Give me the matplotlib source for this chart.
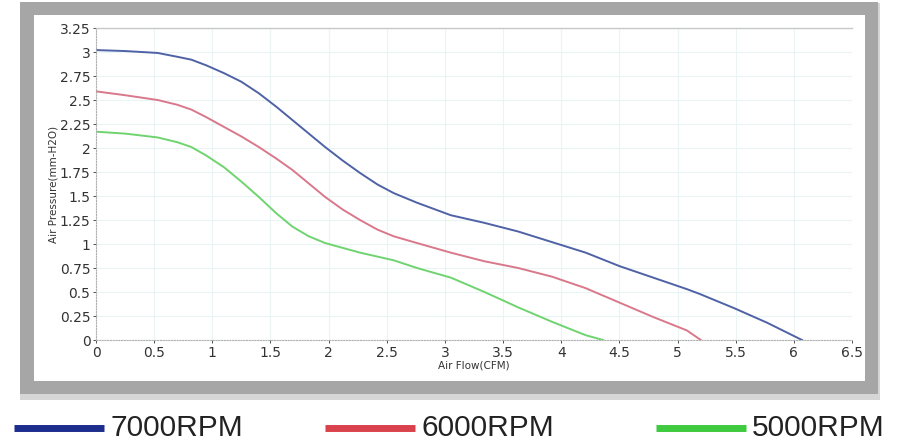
"""Fan P-Q curves: air pressure vs air flow at three speeds."""

import matplotlib.pyplot as plt
from matplotlib.patches import Rectangle
from matplotlib.lines import Line2D

# --- data ---
flow_7000 = [0.0, 0.25, 0.53, 0.70, 0.82, 0.95, 1.10, 1.25, 1.40, 1.55, 1.69,
             1.83, 1.97, 2.12, 2.27, 2.42, 2.56, 2.76, 3.05, 3.34, 3.63, 3.92,
             4.21, 4.50, 4.79, 5.08, 5.19, 5.49, 5.77, 6.07]
pres_7000 = [3.02, 3.01, 2.99, 2.95, 2.92, 2.86, 2.78, 2.69, 2.57, 2.43, 2.29,
             2.15, 2.01, 1.87, 1.74, 1.62, 1.53, 1.43, 1.30, 1.22, 1.13, 1.02,
             0.91, 0.77, 0.65, 0.53, 0.48, 0.33, 0.18, 0.0]

flow_6000 = [0.0, 0.25, 0.53, 0.70, 0.82, 0.95, 1.10, 1.25, 1.40, 1.55, 1.69,
             1.83, 1.97, 2.12, 2.27, 2.42, 2.56, 2.76, 3.05, 3.34, 3.63, 3.92,
             4.21, 4.50, 4.79, 5.08, 5.20]
pres_6000 = [2.59, 2.55, 2.50, 2.45, 2.40, 2.32, 2.22, 2.12, 2.01, 1.89, 1.77,
             1.63, 1.49, 1.36, 1.25, 1.15, 1.08, 1.01, 0.91, 0.82, 0.75, 0.66,
             0.54, 0.39, 0.24, 0.10, 0.0]

flow_5000 = [0.0, 0.25, 0.53, 0.70, 0.82, 0.95, 1.10, 1.25, 1.40, 1.55, 1.69,
             1.83, 1.97, 2.12, 2.27, 2.56, 2.76, 3.05, 3.34, 3.63, 3.92, 4.21,
             4.36]
pres_5000 = [2.17, 2.15, 2.11, 2.06, 2.01, 1.92, 1.80, 1.65, 1.49, 1.32, 1.18,
             1.08, 1.01, 0.96, 0.91, 0.83, 0.75, 0.65, 0.50, 0.34, 0.19, 0.05,
             0.0]

x_ticks = [0, 0.5, 1, 1.5, 2, 2.5, 3, 3.5, 4, 4.5, 5, 5.5, 6, 6.5]
x_ticklabels = ["0", "0.5", "1", "1.5", "2", "2.5", "3", "3.5", "4", "4.5",
                "5", "5.5", "6", "6.5"]
y_ticks = [0, 0.25, 0.5, 0.75, 1, 1.25, 1.5, 1.75, 2, 2.25, 2.5, 2.75, 3, 3.25]
y_ticklabels = ["0", "0.25", "0.5", "0.75", "1", "1.25", "1.5", "1.75", "2",
                "2.25", "2.5", "2.75", "3", "3.25"]
legend_labels = ["7000RPM", "6000RPM", "5000RPM"]

W, H = 897, 448
fig = plt.figure(figsize=(W / 100, H / 100), dpi=100)
fig.patch.set_facecolor("white")


def px(x0, y0, x1, y1):
    """Pixel box (top-left origin) -> figure fraction rect."""
    return (x0 / W, 1 - y1 / H, (x1 - x0) / W, (y1 - y0) / H)


# gray frame around the chart
for box, col in [((20, 3, 880, 400), "#d6d6d6"),
                 ((20, 2, 878, 394), "#a6a6a6"),
                 ((34, 15, 865, 381), "white")]:
    l, b, w, h = px(*box)
    fig.patches.append(Rectangle((l, b), w, h, transform=fig.transFigure,
                                 facecolor=col, edgecolor="none", zorder=-5))

ax = fig.add_axes(px(96, 28, 852, 340))
ax.set_zorder(2)
ax.set_facecolor("white")

ax.plot(flow_7000, pres_7000, color="#4f62a6", lw=1.4)
ax.plot(flow_6000, pres_6000, color="#d9788a", lw=1.4)
ax.plot(flow_5000, pres_5000, color="#6fd46f", lw=1.4)

ax.set_xlim(0, 6.5)
ax.set_ylim(0, 3.25)
ax.set_xticks(x_ticks)
ax.set_xticklabels(x_ticklabels)
ax.set_yticks(y_ticks)
ax.set_yticklabels(y_ticklabels)
ax.tick_params(labelsize=10, colors="#333333", length=2, width=0.6, pad=2)
ax.grid(True, color="#eaf4f4", lw=0.8)
ax.set_axisbelow(True)

for side in ["left", "bottom"]:
    ax.spines[side].set_linestyle((0, (1, 1.5)))
    ax.spines[side].set_color("#b0b0b0")
    ax.spines[side].set_linewidth(0.8)
ax.spines["right"].set_visible(False)
ax.spines["top"].set_color("#c8c8c8")
ax.spines["top"].set_linewidth(1.0)

ax.set_xlabel("Air Flow(CFM)", fontsize=7.5, color="#333333", labelpad=1)
ax.set_ylabel("Air Pressure(mm-H2O)", fontsize=7.5, color="#333333",
              labelpad=1)

# legend row under the frame
legend_colors = ["#1c2d8c", "#d9424c", "#3fca3f"]
swatch_x = [(14, 104), (325, 415), (656, 746)]
y_leg = 1 - 428 / H
for (xa, xb), col, lab in zip(swatch_x, legend_colors, legend_labels):
    fig.add_artist(Line2D([xa / W, xb / W], [y_leg, y_leg],
                          transform=fig.transFigure, color=col, lw=5,
                          solid_capstyle="butt"))
    fig.text((xb + 6) / W, y_leg, lab, fontsize=21.5, color="#222222",
             family="Liberation Sans", va="center", ha="left")

fig.savefig("out.png", dpi=100)
